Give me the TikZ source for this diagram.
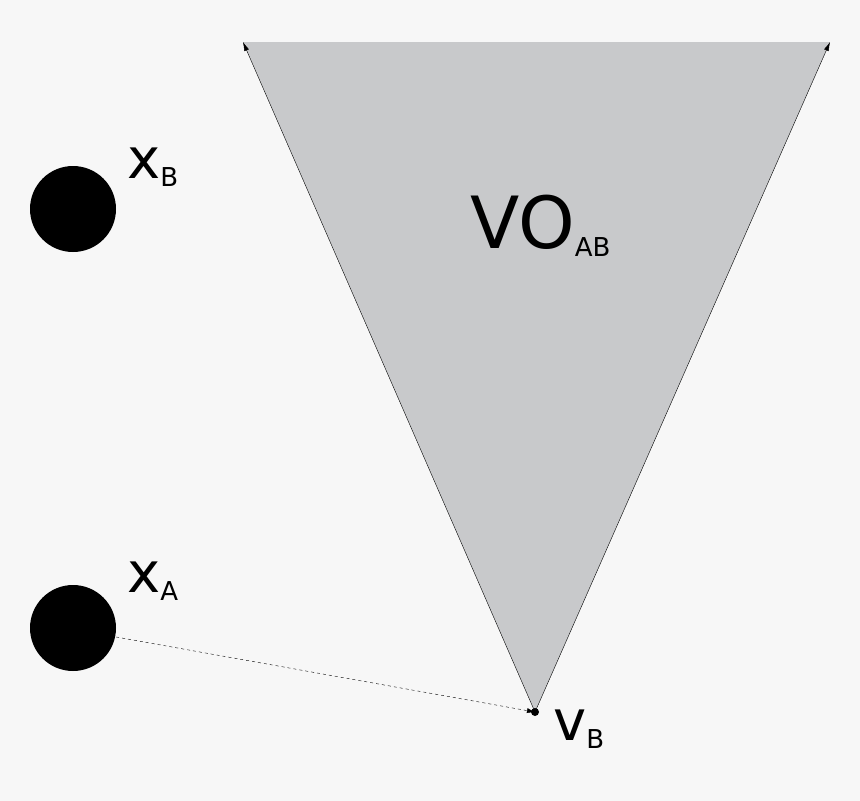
\documentclass[tikz,border=0pt]{standalone}
\usepackage{fontspec}
\setmainfont{DejaVu Sans}
\usetikzlibrary{arrows.meta}
\begin{document}
\begin{tikzpicture}[x=1pt,y=-1pt,
  edge/.style={thin,-{Latex[length=9pt,width=5pt]}},
  disc/.style={circle,fill=black,minimum size=86pt,inner sep=0pt},
  lab/.style={inner sep=0pt,anchor=base west}]
\fill[fill={rgb,255:red,247;green,247;blue,247}] (0,0) rectangle (860,801);
\coordinate (L) at (243,42);
\coordinate (R) at (830,42);
\coordinate (V) at (535,712);
\fill[fill={rgb,255:red,200;green,201;blue,203}] (L) -- (R) -- (V) -- cycle;
\draw[edge] (V) -- (L);
\draw[edge] (V) -- (R);
\node[disc] (B) at (73,209) {};
\node[disc] (A) at (73,628) {};
\fill (V) circle (4pt);
\draw[thin,dashed,-{Latex[length=8pt,width=5pt]}] (A.east) ++(0,9) -- (V);
\node[lab] (xb) at (127,178) {\fontsize{56}{56}\selectfont x\fontsize{26}{26}\selectfont\raisebox{-8pt}{B}};
\node[lab] (xa) at (127,592) {\fontsize{56}{56}\selectfont x\fontsize{26}{26}\selectfont\raisebox{-8pt}{A}};
\node[lab] (vb) at (553,740) {\fontsize{56}{56}\selectfont v\fontsize{26}{26}\selectfont\raisebox{-8pt}{B}};
\node[lab] (vo) at (470,248) {\fontsize{72}{72}\selectfont VO\fontsize{26}{26}\selectfont\raisebox{-8pt}{AB}};
\end{tikzpicture}
\end{document}
